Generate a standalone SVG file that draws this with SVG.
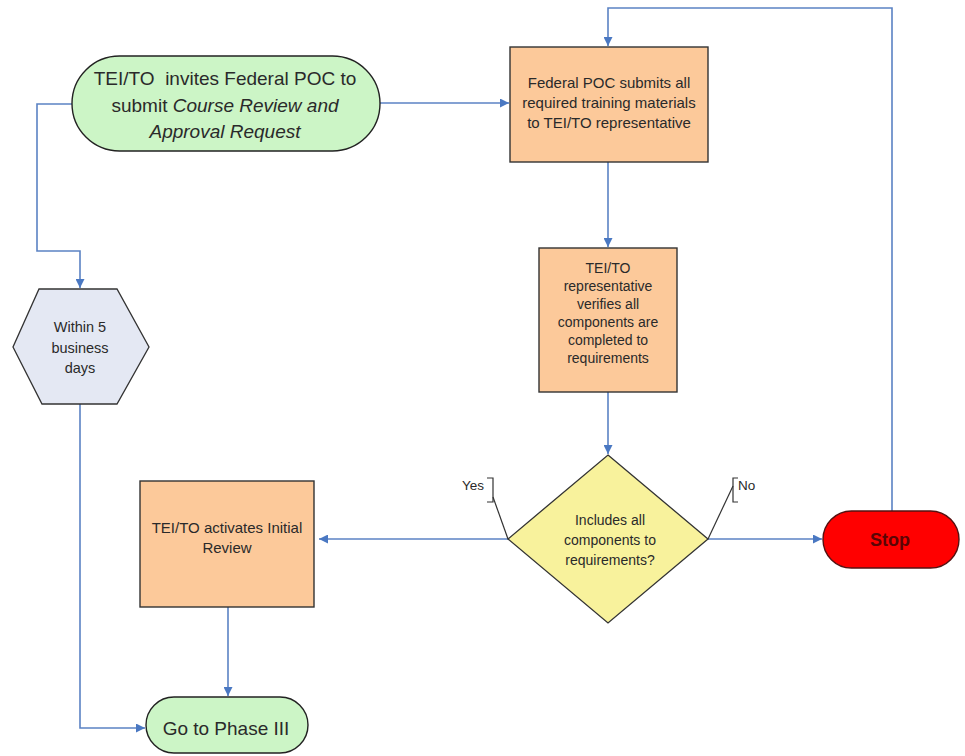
<svg xmlns="http://www.w3.org/2000/svg" width="965" height="756" viewBox="0 0 965 756">
  <defs>
    <marker id="arrow" viewBox="0 0 10 10" refX="10" refY="5" markerWidth="9" markerHeight="9" markerUnits="userSpaceOnUse" orient="auto">
      <path d="M0,0 L10,5 L0,10 Z" fill="#4a78c2"/>
    </marker>
  </defs>
  <style>
    .bg { fill: #ffffff; }
    .edge { fill: none; stroke: #5b82c4; stroke-width: 1.6; }
    .leader { fill: none; stroke: #333333; stroke-width: 1.2; }
    .term { fill: #ccf5c6; stroke: #222222; stroke-width: 1.4; }
    .proc { fill: #fcc99a; stroke: #333333; stroke-width: 1.4; }
    .wait { fill: #e4e8f3; stroke: #333333; stroke-width: 1.3; }
    .dec { fill: #f8f29c; stroke: #333333; stroke-width: 1.3; }
    .stop { fill: #ff0000; stroke: #551111; stroke-width: 1.4; }
    text { font-family: "Liberation Sans", Arial, sans-serif; fill: #2a2a2a; text-anchor: middle; }
    .big { font-size: 19px; }
    .t15 { font-size: 15px; }
    .t14 { font-size: 14px; }
    .t145 { font-size: 14.5px; }
    .lbl { font-size: 13.5px; text-anchor: start; }
    .stoptxt { font-size: 18px; font-weight: bold; fill: #5a0505; }
    .phase { font-size: 19px; }
  </style>
  <rect class="bg" x="0" y="0" width="965" height="756"/>

  <!-- connectors -->
  <g id="connectors">
    <path class="edge" d="M380,103 L509,103" marker-end="url(#arrow)"/>
    <path class="edge" d="M72,104 L37,104 L37,251 L80,251 L80,288" marker-end="url(#arrow)"/>
    <path class="edge" d="M80,404 L80,728 L145,728" marker-end="url(#arrow)"/>
    <path class="edge" d="M608,162 L608,247" marker-end="url(#arrow)"/>
    <path class="edge" d="M608,392 L608,454" marker-end="url(#arrow)"/>
    <path class="edge" d="M508,539 L319,539" marker-end="url(#arrow)"/>
    <path class="edge" d="M708,539 L822,539" marker-end="url(#arrow)"/>
    <path class="edge" d="M892,511 L892,8 L608,8 L608,46" marker-end="url(#arrow)"/>
    <path class="edge" d="M228,607 L228,696" marker-end="url(#arrow)"/>
  </g>

  <!-- start -->
  <g id="start">
    <rect class="term" x="72" y="56" width="308" height="95" rx="47.5" ry="47.5"/>
    <text class="big" x="225" y="85" xml:space="preserve">TEI/TO  invites Federal POC to</text>
    <text class="big" x="225" y="112">submit <tspan font-style="italic">Course Review and</tspan></text>
    <text class="big" x="225" y="138" font-style="italic">Approval Request</text>
  </g>

  <!-- submit materials -->
  <g id="submit">
    <rect class="proc" x="510" y="47" width="198" height="115"/>
    <text class="t15" x="609" y="88">Federal POC submits all</text>
    <text class="t15" x="609" y="108">required training materials</text>
    <text class="t15" x="609" y="128">to TEI/TO representative</text>
  </g>

  <!-- verify -->
  <g id="verify">
    <rect class="proc" x="539" y="248" width="138" height="144"/>
    <text class="t14" x="608" y="273">TEI/TO</text>
    <text class="t14" x="608" y="291">representative</text>
    <text class="t14" x="608" y="309">verifies all</text>
    <text class="t14" x="608" y="327">components are</text>
    <text class="t14" x="608" y="345">completed to</text>
    <text class="t14" x="608" y="363">requirements</text>
  </g>

  <!-- decision -->
  <g id="decision">
    <polygon class="dec" points="608,455 708,539 608,623 508,539"/>
    <text class="t14" x="610" y="525">Includes all</text>
    <text class="t14" x="610" y="545">components to</text>
    <text class="t14" x="610" y="565">requirements?</text>
  </g>

  <!-- yes / no labels -->
  <g id="label-yes">
    <text class="lbl" x="462" y="490">Yes</text>
    <path class="leader" d="M487,478 L493,478 L493,502 L487,502"/>
    <path class="leader" d="M493,497 L508,539"/>
  </g>
  <g id="label-no">
    <text class="lbl" x="738" y="490">No</text>
    <path class="leader" d="M738,478 L733,478 L733,502 L738,502"/>
    <path class="leader" d="M733,486 L708,539"/>
  </g>

  <!-- wait -->
  <g id="wait">
    <polygon class="wait" points="39,289 117,289 149,347 117,404 42,404 13,347"/>
    <text class="t145" x="80" y="332">Within 5</text>
    <text class="t145" x="80" y="353">business</text>
    <text class="t145" x="80" y="373">days</text>
  </g>

  <!-- initial review -->
  <g id="initial-review">
    <rect class="proc" x="140" y="481" width="174" height="126"/>
    <text class="t15" x="227" y="533">TEI/TO activates Initial</text>
    <text class="t15" x="227" y="553">Review</text>
  </g>

  <!-- stop -->
  <g id="stop">
    <rect class="stop" x="823" y="511" width="136" height="57" rx="28.5" ry="28.5"/>
    <text class="stoptxt" x="890" y="546">Stop</text>
  </g>

  <!-- phase III -->
  <g id="phase3">
    <rect class="term" x="146" y="697" width="162" height="56" rx="28" ry="28"/>
    <text class="phase" x="226" y="735">Go to Phase III</text>
  </g>
</svg>
